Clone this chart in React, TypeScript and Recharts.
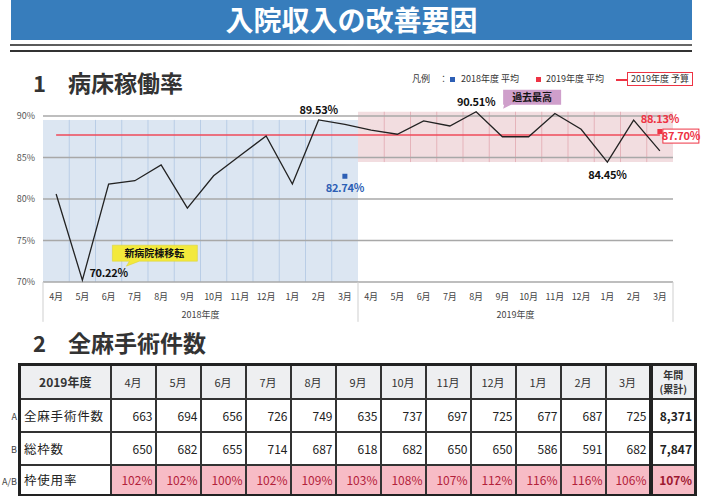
import { ComposedChart, Line, XAxis, YAxis, ReferenceArea, ReferenceLine } from 'recharts'

// 病床稼働率 (%)
const months = ['4月', '5月', '6月', '7月', '8月', '9月', '10月', '11月', '12月', '1月', '2月', '3月']
const fiscalYears = ['2018', '2019']
const rate2018 = [80.6, 70.22, 81.8, 82.2, 84.1, 78.9, 82.8, 85.2, 87.6, 81.8, 89.53, 89.0]
const rate2019 = [88.3, 87.8, 89.4, 88.8, 90.51, 87.5, 87.5, 90.3, 88.4, 84.45, 89.5, 85.8]
const budget2019 = 87.7
const avg2018 = 82.74
const avg2019 = 88.13
const yTicks = [70, 75, 80, 85, 90]

// 全麻手術件数
const surgeries = [663, 694, 656, 726, 749, 635, 737, 697, 725, 677, 687, 725]
const slots = [650, 682, 655, 714, 687, 618, 682, 650, 650, 586, 591, 682]
const usage = [102, 102, 100, 102, 109, 103, 108, 107, 112, 116, 116, 106]
const surgeriesTotal = '8,371'
const slotsTotal = '7,847'
const usageTotal = '107%'

const data = fiscalYears.flatMap((fy, f) =>
  months.map((m, i) => ({
    key: `${fy}-${m}`,
    month: m,
    fy,
    rate: (f === 0 ? rate2018 : rate2019)[i],
    budget: budget2019,
    avg18: f === 0 && i === 11 ? avg2018 : null,
    avg19: f === 1 && i === 11 ? avg2019 : null,
  }))
)

const keys2018 = data.filter((d) => d.fy === '2018').map((d) => d.key)
const keys2019 = data.filter((d) => d.fy === '2019').map((d) => d.key)
const top2018 = Math.max(...rate2018)
const low2019 = Math.min(...rate2019)
const top2019 = Math.max(...rate2019)

const FONT = '"Noto Sans CJK JP", "Noto Sans", sans-serif'
const BLUE = '#2d5fb5'
const RED = '#ee3344'

const boldLabel = { fontSize: 11, fontWeight: 700, letterSpacing: -0.3 } as const

function RateDot(p: any) {
  const { cx, cy, payload, value } = p
  const k = `rd-${payload.key}`
  if (cx == null || cy == null) return <g key={k} />
  const txt = `${Number(value).toFixed(2)}%`
  if (payload.key === '2018-5月') {
    return (
      <g key={k}>
        <text x={cx + 7} y={cy - 3} fill="#111" {...boldLabel}>{txt}</text>
        <path
          d={`M${cx + 30},${cy - 35} h85 v16 h-58 l-13,5 l3,-5 h-17 z`}
          fill="#f3e93c"
          stroke="#d8cf30"
          strokeWidth={0.5}
        />
        <text x={cx + 72} y={cy - 23.5} textAnchor="middle" fontSize={10} fontWeight={700} fill="#111">
          新病院棟移転
        </text>
      </g>
    )
  }
  if (payload.key === '2018-2月') {
    return (
      <text key={k} x={cx} y={cy - 6} textAnchor="middle" fill="#111" {...boldLabel}>{txt}</text>
    )
  }
  if (payload.key === '2019-8月') {
    return (
      <g key={k}>
        <text x={cx} y={cy - 6} textAnchor="middle" fill="#111" {...boldLabel}>{txt}</text>
        <path d={`M${cx + 27},${cy - 22} h58 v15 h-50 l-8,4 l1,-4 h-1 z`} fill="#cf9fcb" />
        <text x={cx + 56} y={cy - 11} textAnchor="middle" fontSize={10} fontWeight={700} fill="#111">
          過去最高
        </text>
      </g>
    )
  }
  if (payload.key === '2019-1月') {
    return (
      <text key={k} x={cx} y={cy + 17} textAnchor="middle" fill="#111" {...boldLabel}>{txt}</text>
    )
  }
  return <g key={k} />
}

function BudgetDot(p: any) {
  const { cx, cy, payload, value } = p
  const k = `bd-${payload.key}`
  if (cx == null || cy == null || payload.key !== '2019-3月') return <g key={k} />
  return (
    <g key={k}>
      <rect x={cx + 3} y={cy - 6} width={36} height={14} fill="#fff" stroke={RED} strokeWidth={1} />
      <text x={cx + 21} y={cy + 5} textAnchor="middle" fill={RED} {...boldLabel}>
        {`${Number(value).toFixed(2)}%`}
      </text>
    </g>
  )
}

function AvgDot(p: any, color: string, below: boolean) {
  const { cx, cy, payload, value } = p
  const k = `ad-${color}-${payload.key}`
  if (cx == null || cy == null || value == null) return <g key={k} />
  return (
    <g key={k}>
      <rect x={cx - 2.5} y={cy - 2.5} width={5} height={5} fill={color} />
      <text x={cx} y={below ? cy + 16 : cy - 9} textAnchor="middle" fill={color} {...boldLabel}>
        {`${Number(value).toFixed(2)}%`}
      </text>
    </g>
  )
}

function RateChart() {
  return (
    <ComposedChart
      width={707}
      height={270}
      data={data}
      margin={{ top: 47.7, right: 34, left: 0, bottom: 0 }}
      style={{ position: 'absolute', left: 0, top: 60 }}
    >
      <XAxis
        dataKey="key"
        scale="band"
        interval={0}
        axisLine={false}
        tickLine={false}
        tickSize={0}
        tickMargin={12}
        height={24}
        tick={{ fontSize: 9, fill: '#444' }}
        tickFormatter={(v: string) => v.split('-')[1]}
      />
      <XAxis
        xAxisId="year"
        dataKey="fy"
        scale="band"
        allowDuplicatedCategory={false}
        ticks={fiscalYears}
        interval={0}
        axisLine={false}
        tickLine={false}
        tickSize={0}
        tickMargin={6}
        height={24}
        tick={{ fontSize: 9, fill: '#444' }}
        tickFormatter={(v: string) => `${v}年度`}
      />
      <YAxis
        type="number"
        domain={[70, 91]}
        ticks={yTicks}
        width={43}
        axisLine={false}
        tickLine={false}
        tickSize={6}
        tickMargin={2}
        tick={{ fontSize: 9, fill: '#555' }}
        tickFormatter={(v: number) => `${v}%`}
      />

      <ReferenceArea
        x1={keys2018[0]}
        x2={keys2018[11]}
        y1={70}
        y2={top2018}
        fill="#dce6f2"
        fillOpacity={1}
        ifOverflow="visible"
      />
      <ReferenceArea
        x1={keys2019[0]}
        x2={keys2019[11]}
        y1={low2019}
        y2={top2019}
        fill="#f2dde0"
        fillOpacity={1}
        ifOverflow="visible"
      />

      {keys2018.slice(1).map((k) => (
        <ReferenceLine
          key={`v18-${k}`}
          segment={[{ x: k, y: 70 }, { x: k, y: top2018 }]}
          position="start"
          stroke="#b9cde6"
          strokeWidth={1}
          ifOverflow="visible"
        />
      ))}
      {keys2019.slice(1).map((k) => (
        <ReferenceLine
          key={`v19-${k}`}
          segment={[{ x: k, y: low2019 }, { x: k, y: top2019 }]}
          position="start"
          stroke="#e5b3ba"
          strokeWidth={1}
          ifOverflow="visible"
        />
      ))}

      {yTicks.map((t) => (
        <ReferenceLine key={`h-${t}`} y={t} stroke="#a8a8a8" strokeWidth={1.3} ifOverflow="visible" />
      ))}

      {/* x-axis label box */}
      {[keys2018[0], keys2019[0]].map((k) => (
        <ReferenceLine
          key={`box-${k}`}
          segment={[{ x: k, y: 70 }, { x: k, y: 65.2 }]}
          position="start"
          stroke="#cfcfcf"
          ifOverflow="visible"
        />
      ))}
      <ReferenceLine
        segment={[{ x: keys2019[11], y: 70 }, { x: keys2019[11], y: 65.2 }]}
        position="end"
        stroke="#cfcfcf"
        ifOverflow="visible"
      />

      <Line
        dataKey="budget"
        stroke="#ef4a5a"
        strokeWidth={1.5}
        dot={BudgetDot}
        activeDot={false}
        isAnimationActive={false}
      />
      <Line
        dataKey="rate"
        stroke="#222"
        strokeWidth={1.3}
        dot={RateDot}
        activeDot={false}
        isAnimationActive={false}
      />
      <Line
        dataKey="avg18"
        stroke="none"
        dot={(p: any) => AvgDot(p, BLUE, true)}
        activeDot={false}
        isAnimationActive={false}
      />
      <Line
        dataKey="avg19"
        stroke="none"
        dot={(p: any) => AvgDot(p, RED, false)}
        activeDot={false}
        isAnimationActive={false}
      />
    </ComposedChart>
  )
}

function Legend() {
  const item = { position: 'absolute', top: 73, fontSize: 9, color: '#333', lineHeight: '12px' } as const
  return (
    <>
      <div style={{ ...item, left: 412 }}>凡例　：</div>
      <div style={{ position: 'absolute', left: 450, top: 77, width: 5, height: 5, background: BLUE }} />
      <div style={{ ...item, left: 461 }}>2018年度 平均</div>
      <div style={{ position: 'absolute', left: 536, top: 77, width: 5, height: 5, background: RED }} />
      <div style={{ ...item, left: 546 }}>2019年度 平均</div>
      <div style={{ position: 'absolute', left: 616, top: 79, width: 11, height: 1.5, background: RED }} />
      <div
        style={{
          ...item,
          left: 627,
          top: 72,
          border: `1px solid ${RED}`,
          padding: '0 3px',
          background: '#fff',
        }}
      >
        2019年度 予算
      </div>
    </>
  )
}

function SurgeryTable() {
  const bd = '2px solid #333'
  const thick = '4px solid #222'
  const head = { border: bd, background: '#eeeff1', textAlign: 'center', fontSize: 11, color: '#333', padding: 0 } as const
  const num = { border: bd, textAlign: 'right', fontSize: 12, color: '#222', padding: '0 2px 0 0' } as const
  const label = { border: bd, textAlign: 'left', fontSize: 12.5, letterSpacing: 0.8, color: '#222', padding: '0 0 0 3px' } as const
  const pink = { ...num, background: '#f7bcc6', color: '#b3213a' } as const
  return (
    <table
      style={{
        position: 'absolute',
        left: 18,
        top: 363,
        width: 676,
        height: 131,
        borderCollapse: 'collapse',
        border: '3px solid #222',
        tableLayout: 'fixed',
        fontFamily: FONT,
      }}
    >
      <colgroup>
        <col style={{ width: 91 }} />
        {months.map((m) => (
          <col key={m} style={{ width: 45 }} />
        ))}
        <col style={{ width: 45 }} />
      </colgroup>
      <tbody>
        <tr style={{ height: 34 }}>
          <td style={{ ...head, fontWeight: 700, fontSize: 12 }}>2019年度</td>
          {months.map((m) => (
            <td key={m} style={head}>{m}</td>
          ))}
          <td style={{ ...head, borderLeft: thick, fontWeight: 700, fontSize: 10, lineHeight: '14px' }}>
            <div>年間</div>
            <div>(累計)</div>
          </td>
        </tr>
        <tr style={{ height: 33 }}>
          <td style={label}>全麻手術件数</td>
          {surgeries.map((v, i) => (
            <td key={i} style={num}>{v}</td>
          ))}
          <td style={{ ...num, borderLeft: thick, fontWeight: 700 }}>{surgeriesTotal}</td>
        </tr>
        <tr style={{ height: 33 }}>
          <td style={label}>総枠数</td>
          {slots.map((v, i) => (
            <td key={i} style={num}>{v}</td>
          ))}
          <td style={{ ...num, borderLeft: thick, fontWeight: 700 }}>{slotsTotal}</td>
        </tr>
        <tr style={{ height: 31 }}>
          <td style={{ ...label, background: '#fff' }}>枠使用率</td>
          {usage.map((v, i) => (
            <td key={i} style={pink}>{`${v}%`}</td>
          ))}
          <td style={{ ...pink, borderLeft: thick, fontWeight: 700, color: '#9e1830' }}>{usageTotal}</td>
        </tr>
      </tbody>
    </table>
  )
}

export default function App() {
  const rowMark = { position: 'absolute', fontSize: 9, color: '#444', textAlign: 'right', width: 17, left: 0, lineHeight: '12px' } as const
  return (
    <div
      style={{
        position: 'absolute',
        left: 0,
        top: 0,
        width: 707,
        height: 496,
        background: '#fff',
        fontFamily: FONT,
        overflow: 'hidden',
      }}
    >
      {/* banner */}
      <div
        style={{
          position: 'absolute',
          left: 11,
          top: 0,
          width: 681,
          height: 40,
          background: '#377dbc',
          color: '#fff',
          fontSize: 28,
          fontWeight: 700,
          textAlign: 'center',
          lineHeight: '38px',
        }}
      >
        入院収入の改善要因
      </div>
      <div
        style={{
          position: 'absolute',
          left: 10,
          top: 44,
          width: 682,
          height: 2,
          background: 'linear-gradient(90deg, #555, #999 50%, #666)',
        }}
      />
      <div style={{ position: 'absolute', left: 10, top: 50, width: 682, height: 2, background: '#333' }} />

      {/* section 1 */}
      <div style={{ position: 'absolute', left: 33, top: 66, fontSize: 22, fontWeight: 700, color: '#333' }}>1</div>
      <div style={{ position: 'absolute', left: 68, top: 65, fontSize: 23, fontWeight: 700, color: '#333' }}>
        病床稼働率
      </div>
      <Legend />
      <RateChart />

      {/* section 2 */}
      <div style={{ position: 'absolute', left: 33, top: 326, fontSize: 22, fontWeight: 700, color: '#333' }}>2</div>
      <div style={{ position: 'absolute', left: 68, top: 325, fontSize: 23, fontWeight: 700, color: '#333' }}>
        全麻手術件数
      </div>
      <div style={{ ...rowMark, top: 411 }}>A</div>
      <div style={{ ...rowMark, top: 444 }}>B</div>
      <div style={{ ...rowMark, top: 476 }}>A/B</div>
      <SurgeryTable />
    </div>
  )
}
